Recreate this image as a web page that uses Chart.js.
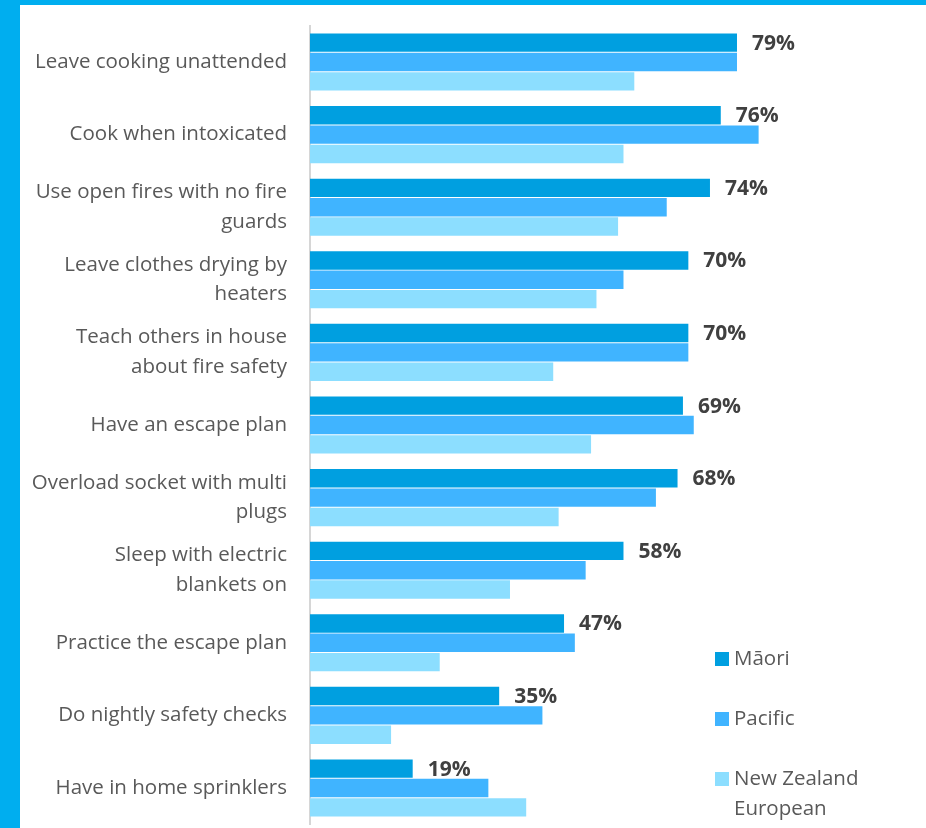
<!DOCTYPE html>
<html>
<head>
<meta charset="utf-8">
<script src="https://cdn.jsdelivr.net/npm/chart.js@4.4.0/dist/chart.umd.min.js"></script>
<style>
  html, body { margin: 0; padding: 0; }
  body { width: 926px; height: 828px; background: #00aeef; position: relative; overflow: hidden; }
  #wrap { position: absolute; left: 20px; top: 5px; width: 906px; height: 823px; background: #fff; }
  canvas { display: block; }
</style>
</head>
<body>
<div id="wrap"><canvas id="chart" width="906" height="823"></canvas></div>
<script>
// categories (top to bottom)
const behaviours = [
    'Leave cooking unattended',
    'Cook when intoxicated',
    ['Use open fires with no fire', 'guards'],
    ['Leave clothes drying by', 'heaters'],
    ['Teach others in house', 'about fire safety'],
    'Have an escape plan',
    ['Overload socket with multi', 'plugs'],
    ['Sleep with electric', 'blankets on'],
    'Practice the escape plan',
    'Do nightly safety checks',
    'Have in home sprinklers'
];

// percentages per group
const maori = [79, 76, 74, 70, 70, 69, 68, 58, 47, 35, 19];
const pacific = [79, 83, 66, 58, 70, 71, 64, 51, 49, 43, 33];
const nzEuropean = [60, 58, 57, 53, 45, 52, 46, 37, 24, 15, 40];

const seriesNames = ['Māori', 'Pacific', 'New Zealand European'];
const seriesColours = ['#009fe0', '#40b4ff', '#8cdeff'];

const FONT = "'Open Sans', 'DejaVu Sans', sans-serif";

// percent labels on the Māori bars only
const valueLabels = {
    id: 'valueLabels',
    afterDatasetsDraw(chart) {
        const ctx = chart.ctx;
        const meta = chart.getDatasetMeta(0);
        ctx.save();
        ctx.font = 'bold 21px ' + FONT;
        ctx.fillStyle = '#404040';
        ctx.textAlign = 'left';
        ctx.textBaseline = 'middle';
        meta.data.forEach(function (bar, i) {
            ctx.fillText(maori[i] + '%', bar.x + 15, bar.y + 1);
        });
        ctx.restore();
    }
};

// legend on the right, stacked, with wrapping
const sideLegend = {
    id: 'sideLegend',
    afterDraw(chart) {
        const ctx = chart.ctx;
        const x = 695, y0 = 654, step = 60, box = 14, lineH = 30, maxW = 135;
        ctx.save();
        ctx.font = '20.5px ' + FONT;
        ctx.textBaseline = 'middle';
        ctx.textAlign = 'left';
        chart.data.datasets.forEach(function (ds, i) {
            const cy = y0 + i * step;
            ctx.fillStyle = ds.backgroundColor;
            ctx.fillRect(x, cy - box / 2, box, box);
            // simple word wrap
            let lines = [], line = '';
            ds.label.split(' ').forEach(function (w) {
                const t = line ? line + ' ' + w : w;
                if (ctx.measureText(t).width > maxW && line) { lines.push(line); line = w; }
                else line = t;
            });
            lines.push(line);
            ctx.fillStyle = '#595959';
            lines.forEach(function (l, k) { ctx.fillText(l, x + 19, cy + k * lineH); });
        });
        ctx.restore();
    }
};

const data = {
    labels: behaviours,
    datasets: [maori, pacific, nzEuropean].map(function (vals, i) {
        return {
            label: seriesNames[i],
            data: vals,
            backgroundColor: seriesColours[i],
            borderWidth: 0,
            categoryPercentage: 0.8,
            barPercentage: 0.95
        };
    })
};

const config = {
    type: 'bar',
    data: data,
    options: {
        indexAxis: 'y',
        responsive: false,
        animation: false,
        layout: { padding: { top: 20.7, bottom: 3.7, left: 0, right: 75.5 } },
        scales: {
            x: { display: false, min: 0, max: 100 },
            y: {
                afterFit: function (scale) {
                    scale.width = 290;
                    scale.paddingTop = 0;
                    scale.paddingBottom = 0;
                },
                grid: { display: false, drawTicks: false },
                border: { display: true, color: '#d6d6d6', width: 2 },
                ticks: {
                    autoSkip: false,
                    padding: 23,
                    color: '#595959',
                    font: { family: FONT, size: 20.5, lineHeight: 1.44 }
                }
            }
        },
        plugins: {
            legend: { display: false },
            tooltip: { enabled: false }
        }
    },
    plugins: [valueLabels, sideLegend]
};

const chart = new Chart(document.getElementById('chart'), config);
</script>
</body>
</html>
